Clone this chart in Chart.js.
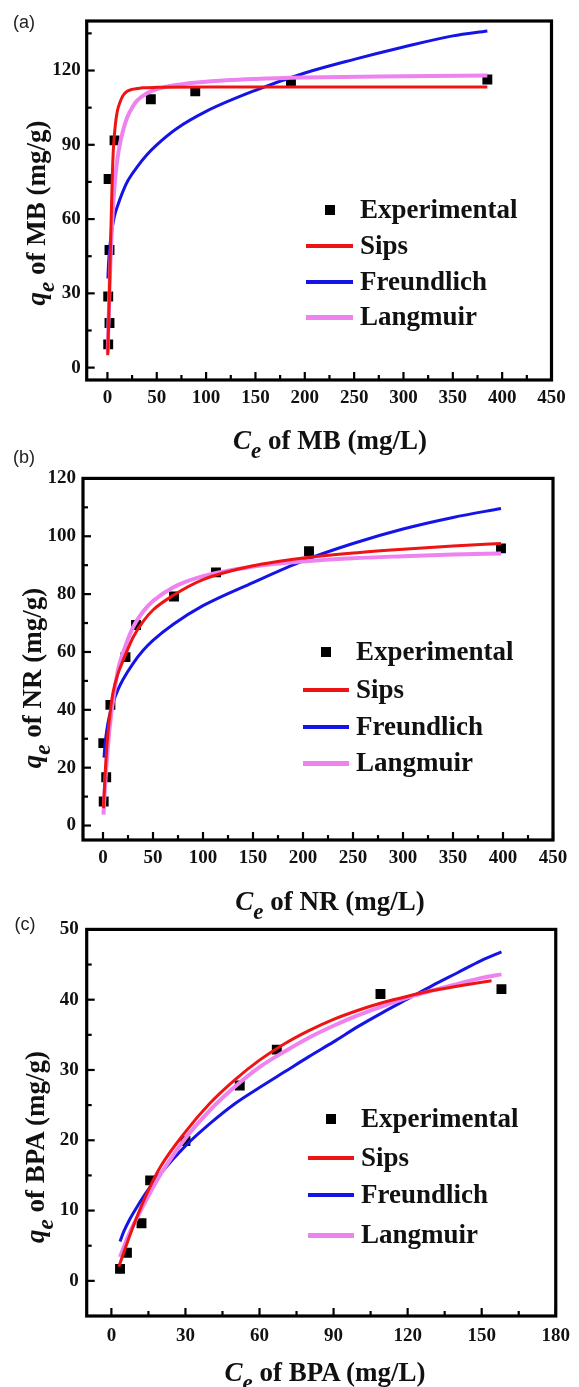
<!DOCTYPE html>
<html><head><meta charset="utf-8">
<script src="https://cdn.jsdelivr.net/npm/chart.js@4.4.0/dist/chart.umd.min.js"></script>
<style>
html,body{margin:0;padding:0;background:#fff;}
#wrap{position:relative;width:579px;height:1387px;overflow:hidden;background:#fff;}
canvas{position:absolute;left:0;}
.plab{position:absolute;font-family:"Liberation Sans",Arial,sans-serif;font-size:18px;color:#222;transform:translate(-50%,-50%);}
.at{position:absolute;font-family:"Liberation Serif","Times New Roman",serif;font-weight:bold;font-size:27px;white-space:nowrap;color:#111;line-height:1;}
.at.x{transform:translate(-50%,-50%);}
.at.y{transform:translate(-50%,-50%) rotate(-90deg);}
.at i{font-style:italic;}
.at .sb{font-style:italic;font-size:0.85em;position:relative;top:0.38em;}
.lrow{position:absolute;font-family:"Liberation Serif","Times New Roman",serif;font-weight:bold;font-size:27px;color:#111;line-height:1;white-space:nowrap;transform:translateY(-50%);}
.sw{position:absolute;}
</style>
</head><body>
<div id="wrap">
<canvas id="ca" width="579" height="460" style="top:0px"></canvas>
<canvas id="cb" width="579" height="450" style="top:460px"></canvas>
<canvas id="cc" width="579" height="477" style="top:910px"></canvas>
</div>
<script>
// ---------------- DATA ----------------
const seriesNames = ['Experimental', 'Sips', 'Freundlich', 'Langmuir'];

// (a) MB
const mbExpX = [0.8, 2.1, 0.8, 2.1, 1.2, 7.2, 44, 89, 186, 385];
const mbExpY = [9.4, 18, 28.7, 47.5, 76.2, 91.8, 108.4, 111.6, 115, 116.4];
const mbSipsX = [0.3, 1, 2, 3, 4, 5, 6, 8, 10, 13, 16, 20, 25, 35, 50, 100, 200, 385];
const mbSipsY = [5, 15, 30, 47, 63, 78, 88, 98, 103.5, 107.5, 110, 111.6, 112.4, 113, 113.2, 113.3, 113.3, 113.3];
const mbFreuX = [0.5, 1, 2, 4, 7, 10, 15, 20, 30, 40, 50, 70, 100, 150, 200, 250, 300, 350, 385];
const mbFreuY = [36, 41, 47, 54, 61, 65, 70.5, 75, 81, 86, 90, 96.5, 103.5, 112, 119, 124.5, 129.5, 134, 136];
const mbLangX = [0.3, 1, 2, 3, 4, 5, 6, 8, 10, 13, 16, 20, 25, 30, 40, 50, 70, 100, 150, 200, 300, 385];
const mbLangY = [6, 17, 30, 42, 52, 60, 67, 77, 84, 91, 96, 101, 105, 107.8, 110.8, 112.5, 114.2, 115.5, 116.6, 117.2, 117.7, 118];
const mbXTicks = [0, 50, 100, 150, 200, 250, 300, 350, 400, 450];
const mbXMinor = [25, 75, 125, 175, 225, 275, 325, 375, 425];
const mbYTicks = [0, 30, 60, 90, 120];
const mbYMinor = [15, 45, 75, 105, 135];

// (b) NR
const nrExpX = [0.7, 3.2, 0.3, 7.4, 22.5, 33, 71, 113, 206, 398];
const nrExpY = [8.3, 16.7, 28.5, 41.7, 58.2, 69.3, 79.2, 87.5, 94.8, 95.8];
const nrSipsX = [0.5, 1, 2, 3, 5, 7.5, 10, 15, 20, 30, 40, 50, 70, 100, 150, 200, 250, 300, 350, 398];
const nrSipsY = [6, 10, 17, 23, 32, 40, 46, 52.5, 57, 65, 70.5, 74.5, 79.5, 85, 89.8, 92.5, 94.2, 95.5, 96.6, 97.5];
const nrFreuX = [1, 2, 3, 5, 7.5, 10, 15, 20, 30, 40, 50, 70, 100, 150, 200, 250, 300, 350, 398];
const nrFreuY = [23.5, 28, 31, 35.5, 39.5, 42.5, 47, 50.5, 56, 60.5, 64, 69.5, 76, 84, 91.5, 97.5, 102.5, 106.5, 109.6];
const nrLangX = [0.5, 1, 2, 3, 5, 7.5, 10, 15, 20, 30, 40, 50, 70, 100, 150, 200, 250, 300, 350, 398];
const nrLangY = [3.8, 7.2, 13.3, 18.8, 27.7, 36.4, 43.1, 53.9, 59.7, 68.5, 73.9, 77.6, 82.3, 86.2, 89.5, 91.3, 92.4, 93.1, 93.7, 94];
const nrXTicks = [0, 50, 100, 150, 200, 250, 300, 350, 400, 450];
const nrXMinor = [25, 75, 125, 175, 225, 275, 325, 375, 425];
const nrYTicks = [0, 20, 40, 60, 80, 100, 120];
const nrYMinor = [10, 30, 50, 70, 90, 110];

// (c) BPA
const bpaExpX = [3.5, 6.3, 12.2, 15.7, 30, 52, 67, 109, 158];
const bpaExpY = [1.7, 4.0, 8.2, 14.3, 19.9, 27.8, 32.9, 40.8, 41.5];
const bpaSipsX = [3, 5, 7.5, 10, 15, 20, 30, 40, 50, 60, 70, 80, 90, 100, 110, 120, 130, 140, 154];
const bpaSipsY = [2.0, 4.0, 6.5, 8.8, 12.9, 16.3, 21.2, 25.3, 28.6, 31.4, 33.7, 35.6, 37.2, 38.5, 39.6, 40.5, 41.3, 41.9, 42.7];
const bpaFreuX = [3.5, 5, 7.5, 10, 15, 20, 30, 40, 50, 60, 70, 80, 90, 100, 110, 120, 130, 140, 150, 158];
const bpaFreuY = [5.6, 7, 8.8, 10.3, 13, 15.3, 19.2, 22.4, 25.2, 27.5, 29.7, 31.9, 34, 36.2, 38.2, 40.1, 42, 43.8, 45.6, 46.8];
const bpaLangX = [3.5, 5, 7.5, 10, 15, 20, 30, 40, 50, 60, 70, 80, 90, 100, 110, 120, 130, 140, 150, 158];
const bpaLangY = [3.4, 4.8, 6.9, 8.7, 12.1, 15.2, 20.3, 24.3, 27.6, 30.4, 32.6, 34.6, 36.3, 37.8, 39.1, 40.3, 41.3, 42.2, 43.1, 43.6];
const bpaXTicks = [0, 30, 60, 90, 120, 150, 180];
const bpaXMinor = [15, 45, 75, 105, 135, 165];
const bpaYTicks = [0, 10, 20, 30, 40, 50];
const bpaYMinor = [5, 15, 25, 35, 45];

// ---------------- STYLE ----------------
const COLORS = {Experimental: '#000000', Sips: '#ee1414', Freundlich: '#1414e6', Langmuir: '#ee82ee'};
const WIDTHS = {Sips: 3, Freundlich: 3, Langmuir: 4};
const zip = (xs, ys) => xs.map((x, i) => ({x: x, y: ys[i]}));

const axisDecor = {
  id: 'axisDecor',
  afterDatasetsDraw(chart) {
    const o = chart.options.plugins.axisDecor;
    const ctx = chart.ctx, a = chart.chartArea, x = chart.scales.x, y = chart.scales.y;
    ctx.save();
    ctx.strokeStyle = '#000';
    ctx.lineCap = 'butt';
    const seg = (x1, y1, x2, y2) => { ctx.beginPath(); ctx.moveTo(x1, y1); ctx.lineTo(x2, y2); ctx.stroke(); };
    ctx.lineWidth = 2.2;
    o.xMajor.forEach(v => { const p = x.getPixelForValue(v); seg(p, a.bottom, p, a.bottom - 8); });
    o.xMinor.forEach(v => { const p = x.getPixelForValue(v); seg(p, a.bottom, p, a.bottom - 5); });
    o.yMajor.forEach(v => { const p = y.getPixelForValue(v); seg(a.left, p, a.left + 8, p); });
    o.yMinor.forEach(v => { const p = y.getPixelForValue(v); seg(a.left, p, a.left + 5, p); });
    ctx.lineWidth = 3.2;
    ctx.strokeRect(a.left, a.top, a.right - a.left, a.bottom - a.top);
    ctx.restore();
  }
};

function makePanel(id, p) {
  const datasets = [
    {label: seriesNames[0], data: zip(p.ex, p.ey), showLine: false, pointStyle: 'rect', pointRadius: 7,
     pointBackgroundColor: COLORS.Experimental, pointBorderWidth: 0, order: 5},
    {label: seriesNames[1], data: zip(p.sx, p.sy), showLine: true, pointRadius: 0, borderColor: COLORS.Sips,
     borderWidth: WIDTHS.Sips, cubicInterpolationMode: 'monotone', order: 2},
    {label: seriesNames[2], data: zip(p.fx, p.fy), showLine: true, pointRadius: 0, borderColor: COLORS.Freundlich,
     borderWidth: WIDTHS.Freundlich, cubicInterpolationMode: 'monotone', order: 4},
    {label: seriesNames[3], data: zip(p.lx, p.ly), showLine: true, pointRadius: 0, borderColor: COLORS.Langmuir,
     borderWidth: WIDTHS.Langmuir, cubicInterpolationMode: 'monotone', order: 3}
  ];
  const tickFont = {family: '"Liberation Serif","Times New Roman",serif', weight: 'bold', size: 19};
  new Chart(document.getElementById(id), {
    type: 'scatter',
    data: {datasets},
    plugins: [axisDecor],
    options: {
      responsive: false, animation: false, devicePixelRatio: 1,
      layout: {padding: {top: p.padTop, right: p.padRight, left: 0, bottom: 0}},
      plugins: {legend: {display: false}, tooltip: {enabled: false},
        axisDecor: {xMajor: p.xTicks, xMinor: p.xMinor, yMajor: p.yTicks, yMinor: p.yMinor}},
      scales: {
        x: {type: 'linear', min: p.xMin, max: p.xMax,
          grid: {display: false, drawTicks: false}, border: {display: false},
          ticks: {font: tickFont, color: '#111', padding: p.xPad, autoSkip: false, maxRotation: 0},
          afterBuildTicks: s => { s.ticks = p.xTicks.map(v => ({value: v})); },
          afterFit: s => { s.height = p.xH; }},
        y: {type: 'linear', min: p.yMin, max: p.yMax,
          grid: {display: false, drawTicks: false}, border: {display: false},
          ticks: {font: tickFont, color: '#111', padding: p.yPad, autoSkip: false},
          afterBuildTicks: s => { s.ticks = p.yTicks.map(v => ({value: v})); },
          afterFit: s => { s.width = p.yW; }}
      }
    }
  });
}

makePanel('ca', {ex: mbExpX, ey: mbExpY, sx: mbSipsX, sy: mbSipsY, fx: mbFreuX, fy: mbFreuY, lx: mbLangX, ly: mbLangY,
  xTicks: mbXTicks, xMinor: mbXMinor, yTicks: mbYTicks, yMinor: mbYMinor,
  xMin: -21, xMax: 450, yMin: -5, yMax: 140, padTop: 21, padRight: 27.5, yW: 86.7, xH: 80, xPad: 7, yPad: 6});
makePanel('cb', {ex: nrExpX, ey: nrExpY, sx: nrSipsX, sy: nrSipsY, fx: nrFreuX, fy: nrFreuY, lx: nrLangX, ly: nrLangY,
  xTicks: nrXTicks, xMinor: nrXMinor, yTicks: nrYTicks, yMinor: nrYMinor,
  xMin: -20, xMax: 450, yMin: -5, yMax: 120, padTop: 14, padRight: 26, yW: 83, xH: 70, xPad: 7, yPad: 7});
makePanel('cc', {ex: bpaExpX, ey: bpaExpY, sx: bpaSipsX, sy: bpaSipsY, fx: bpaFreuX, fy: bpaFreuY, lx: bpaLangX, ly: bpaLangY,
  xTicks: bpaXTicks, xMinor: bpaXMinor, yTicks: bpaYTicks, yMinor: bpaYMinor,
  xMin: -10, xMax: 180, yMin: -5, yMax: 50, padTop: 18, padRight: 17.3, yW: 86.7, xH: 71, xPad: 9, yPad: 8});

// ---------------- TEXT OVERLAYS ----------------
const wrap = document.getElementById('wrap');
function addEl(cls, html, x, y) {
  const d = document.createElement('div');
  d.className = cls; d.innerHTML = html;
  d.style.left = x + 'px'; d.style.top = y + 'px';
  wrap.appendChild(d);
  return d;
}
addEl('plab', '(a)', 24, 22);
addEl('plab', '(b)', 24, 457);
addEl('plab', '(c)', 25, 924);
const xTitle = s => '<i>C</i><span class="sb">e</span> of ' + s + ' (mg/L)';
const yTitle = s => '<i>q</i><span class="sb">e</span> of ' + s + ' (mg/g)';
addEl('at x', xTitle('MB'), 330, 440);
addEl('at x', xTitle('NR'), 330, 901);
addEl('at x', xTitle('BPA'), 325, 1372);
addEl('at y', yTitle('MB'), 36, 213);
addEl('at y', yTitle('NR'), 32, 678);
addEl('at y', yTitle('BPA'), 35, 1147);

function addLegend(rows, lineX1, lineX2, textX) {
  seriesNames.forEach((name, i) => {
    const y = rows[i];
    const sw = document.createElement('div');
    sw.className = 'sw';
    if (name === 'Experimental') {
      const c = (lineX1 + lineX2) / 2;
      sw.style.cssText = 'left:' + (c - 5) + 'px;top:' + (y - 5) + 'px;width:10px;height:10px;background:' + COLORS[name] + ';';
    } else {
      const w = WIDTHS[name] + 1;
      sw.style.cssText = 'left:' + lineX1 + 'px;top:' + (y - w / 2) + 'px;width:' + (lineX2 - lineX1) + 'px;height:' + w + 'px;background:' + COLORS[name] + ';';
    }
    wrap.appendChild(sw);
    addEl('lrow', name, textX, y - 1);
  });
}
addLegend([210, 246, 282, 317], 306, 353, 360);
addLegend([652, 690, 727, 763], 303, 349, 356);
addLegend([1119, 1158, 1195, 1235], 308, 354, 361);
</script>
</body></html>
